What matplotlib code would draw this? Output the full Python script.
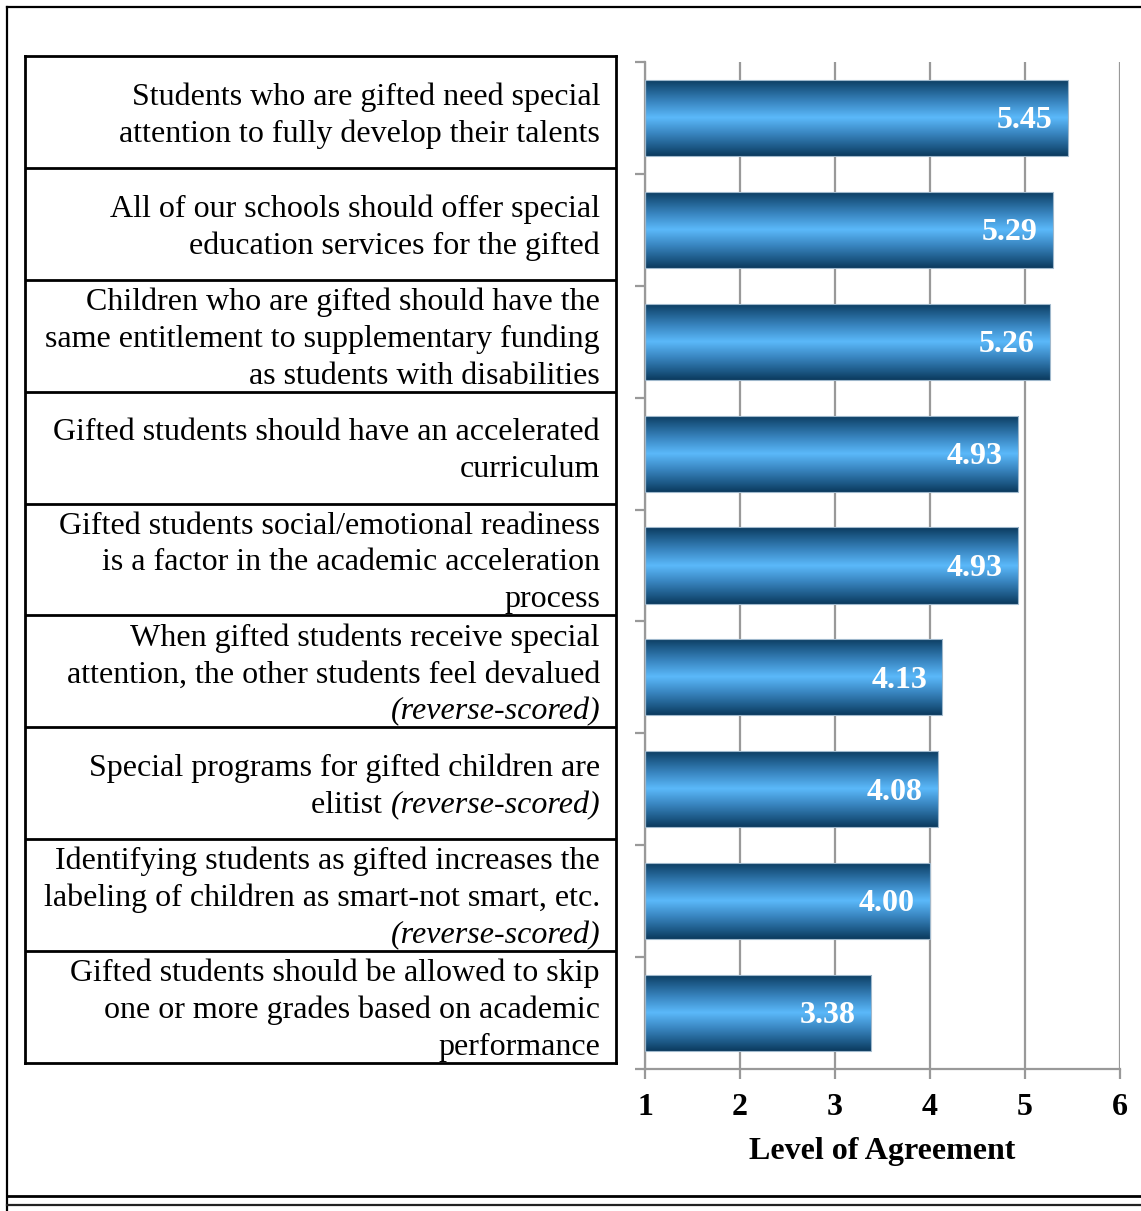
import numpy as np
import matplotlib
matplotlib.use("Agg")
import matplotlib.pyplot as plt
from matplotlib.colors import LinearSegmentedColormap
from matplotlib.lines import Line2D

# survey items, top to bottom
statements = [
    "Students who are gifted need special\nattention to fully develop their talents",
    "All of our schools should offer special\neducation services for the gifted",
    "Children who are gifted should have the\nsame entitlement to supplementary funding\nas students with disabilities",
    "Gifted students should have an accelerated\ncurriculum",
    "Gifted students social/emotional readiness\nis a factor in the academic acceleration\nprocess",
    "When gifted students receive special\nattention, the other students feel devalued\n(reverse-scored)",
    "Special programs for gifted children are\nelitist (reverse-scored)",
    "Identifying students as gifted increases the\nlabeling of children as smart-not smart, etc.\n(reverse-scored)",
    "Gifted students should be allowed to skip\none or more grades based on academic\nperformance",
]
means = [5.45, 5.29, 5.26, 4.93, 4.93, 4.13, 4.08, 4.00, 3.38]
x_ticks = [1, 2, 3, 4, 5, 6]
italic_tag = "(reverse-scored)"

W, H = 1141, 1211
serif = "Liberation Serif"

fig = plt.figure(figsize=(W / 100, H / 100), dpi=100)
fig.patch.set_facecolor("white")

# page frame
def fline(x0, y0, x1, y1, lw=1.6, c="black"):
    fig.add_artist(Line2D([x0 / W, x1 / W], [1 - y0 / H, 1 - y1 / H],
                          transform=fig.transFigure, color=c, lw=lw))

fline(7, 7, W, 7)
fline(7, 7, 7, H)
fline(7, 1196, W, 1196, lw=2)
fline(7, 1205, W, 1205, lw=1.6, c="#222222")

# ---- bar chart ----
ax = fig.add_axes([645 / W, 1 - 1069 / H, 475 / W, 1007 / H])
n = len(means)
ypos = np.arange(n)
bars = ax.barh(ypos, np.array(means) - 1, left=1, height=0.68,
               color="none", edgecolor="#9fb8cc", linewidth=0.8, zorder=3)

blue = LinearSegmentedColormap.from_list(
    "bar", [(0.0, "#0b3a5e"), (0.12, "#1d5a88"), (0.3, "#3a87c2"),
            (0.5, "#5bb9fa"), (0.7, "#3a87c2"), (0.88, "#1d5a88"),
            (1.0, "#0b3a5e")])
grad = np.linspace(0, 1, 256).reshape(-1, 1)
for b in bars:
    x0, y0 = b.get_x(), b.get_y()
    im = ax.imshow(grad, extent=[x0, x0 + b.get_width(), y0 + b.get_height(), y0],
                   aspect="auto", cmap=blue, zorder=2, interpolation="bilinear")
    im.set_clip_path(b)

for y, v in zip(ypos, means):
    ax.annotate(f"{v:.2f}", (v, y), xytext=(-11, -2), textcoords="offset points",
                ha="right", va="center", color="white", fontsize=23,
                fontweight="bold", family=serif, zorder=4)

ax.set_xlim(1, 6)
ax.set_ylim(n - 0.5, -0.5)
ax.set_xticks(x_ticks)
ax.set_xticklabels([str(t) for t in x_ticks])
ax.set_yticks(np.arange(-0.5, n, 1.0))
ax.set_yticklabels([])
ax.grid(axis="x", color="#999999", lw=1.6, zorder=0)
ax.set_axisbelow(True)
for s in ["top", "right"]:
    ax.spines[s].set_visible(False)
for s in ["left", "bottom"]:
    ax.spines[s].set_color("#999999")
    ax.spines[s].set_linewidth(1.6)
ax.tick_params(axis="both", color="#999999", width=1.6, length=7, direction="out")
ax.tick_params(axis="x", pad=10)
for lab in ax.get_xticklabels():
    lab.set_fontsize(23)
    lab.set_fontweight("bold")
    lab.set_family(serif)
ax.set_xlabel("Level of Agreement", fontsize=23, fontweight="bold", family=serif)
ax.xaxis.set_label_coords(0.5, -(1152 - 1069) / 1007)
ax.xaxis.label.set_va("center")

# ---- statement table ----
tab = fig.add_axes([25 / W, 1 - 1063 / H, 591 / W, 1007 / H])
tab.set_xlim(0, 591)
tab.set_ylim(1007, 0)
tab.set_xticks([])
tab.set_yticks([])
for s in tab.spines.values():
    s.set_linewidth(2)
row_h = 1007 / n
for i in range(1, n):
    tab.axhline(i * row_h, color="black", lw=2)

renderer = fig.canvas.get_renderer()
x_right = 575
line_gap = 37
for i, text in enumerate(statements):
    lines = text.split("\n")
    mid = (i + 0.5) * row_h
    for j, line in enumerate(lines):
        yl = mid + (j - (len(lines) - 1) / 2) * line_gap
        if italic_tag in line:
            head = line.replace(italic_tag, "")
            t = tab.text(x_right, yl, italic_tag, ha="right", va="center_baseline",
                         fontsize=23, family=serif, style="italic")
            w = t.get_window_extent(renderer).width
            if head:
                tab.text(x_right - w, yl, head, ha="right", va="center_baseline",
                         fontsize=23, family=serif)
        else:
            tab.text(x_right, yl, line, ha="right", va="center_baseline",
                     fontsize=23, family=serif)

fig.savefig("out.png", dpi=100)
